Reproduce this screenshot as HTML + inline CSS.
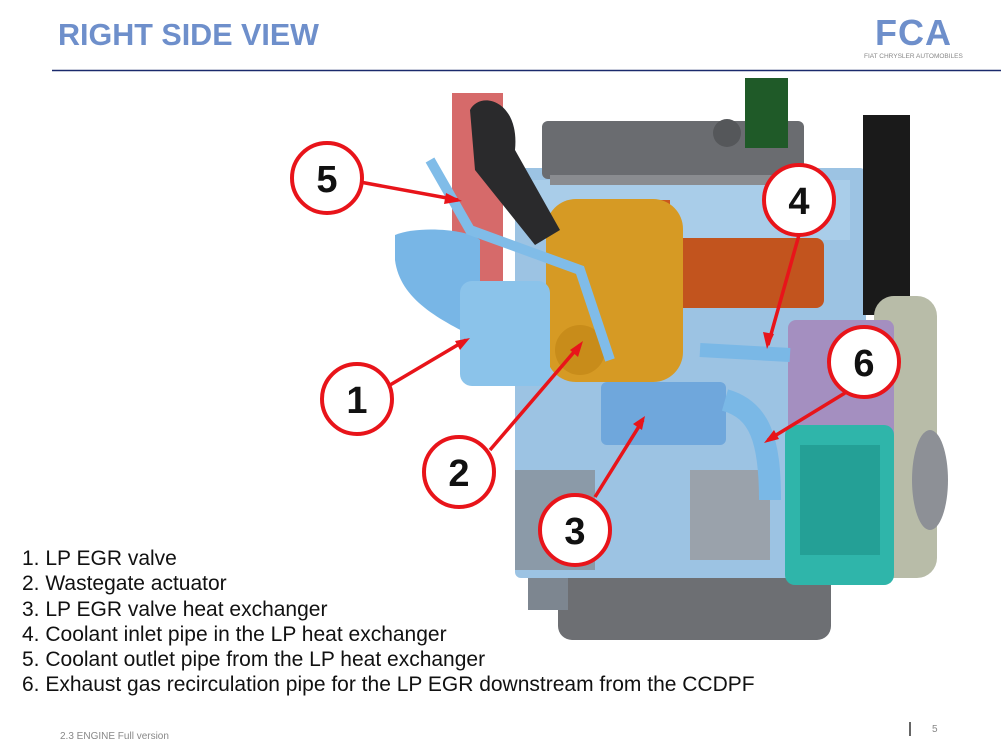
<!DOCTYPE html>
<html><head><meta charset="utf-8"><style>
body{margin:0;width:1001px;height:739px;background:#fff;overflow:hidden;position:relative;font-family:"Liberation Sans",sans-serif}
.t{position:absolute;left:58px;top:18px;font-size:30.5px;font-weight:bold;color:#6e8fcb}
.list{position:absolute;left:22px;top:546px;font-size:21px;line-height:25.3px;color:#111}
</style></head><body>
<div class="t">RIGHT SIDE VIEW</div>
<svg width="1001" height="739" style="position:absolute;left:0;top:0">
<line x1="52" y1="70.5" x2="1001" y2="70.5" stroke="#1a2a6c" stroke-width="1.5"/>
<text x="875" y="45" font-family="Liberation Sans" font-weight="bold" font-size="36" fill="#6e8fcb" letter-spacing="1">FCA</text>
<text x="864" y="58" font-family="Liberation Sans" font-size="6.5" fill="#888">FIAT CHRYSLER AUTOMOBILES</text>
<text x="60" y="739" font-family="Liberation Sans" font-size="10" fill="#888">2.3 ENGINE Full version</text>
<line x1="910" y1="722" x2="910" y2="736" stroke="#666" stroke-width="2"/>
<text x="932" y="732" font-family="Liberation Sans" font-size="10" fill="#888">5</text>
<!-- engine -->
<rect x="558" y="540" width="273" height="100" rx="14" fill="#6d6f73"/>
<rect x="528" y="500" width="40" height="110" fill="#7d8690"/>
<rect x="515" y="168" width="351" height="410" rx="6" fill="#9cc3e3"/>
<rect x="530" y="180" width="320" height="60" fill="#a9cde9"/>
<rect x="515" y="470" width="80" height="100" fill="#8b9aa8"/>
<rect x="690" y="470" width="80" height="90" fill="#9aa2ab"/>
<rect x="542" y="121" width="262" height="58" rx="6" fill="#6a6c70"/>
<rect x="550" y="175" width="250" height="10" fill="#8a8c90"/>
<circle cx="727" cy="133" r="14" fill="#55575a"/>
<rect x="745" y="78" width="43" height="70" fill="#1f5a28"/>
<rect x="863" y="115" width="47" height="200" fill="#1a1a1a"/>
<rect x="874" y="296" width="63" height="282" rx="20" fill="#b8bca8"/>
<ellipse cx="930" cy="480" rx="18" ry="50" fill="#8d9096"/>
<rect x="788" y="320" width="106" height="125" rx="8" fill="#a48fc0"/>
<rect x="785" y="425" width="109" height="160" rx="10" fill="#2fb5aa"/>
<rect x="800" y="445" width="80" height="110" fill="#24a096"/>
<rect x="605" y="238" width="219" height="70" rx="8" fill="#c2541e"/>
<rect x="625" y="200" width="45" height="60" fill="#c9581f"/>
<rect x="546" y="199" width="137" height="183" rx="30" fill="#d69a24"/>
<circle cx="580" cy="350" r="25" fill="#c88c1a"/>
<path d="M452 93h51v188h-51z" fill="#d66a6a"/>
<path d="M470 110 C480 90,520 100,515 150 L560 230 L535 245 L475 170 Z" fill="#2a2a2c"/>
<path d="M395 235 C420 225,470 230,480 240 L480 340 C440 320,400 300,395 260 Z" fill="#78b6e6"/>
<rect x="460" y="281" width="90" height="105" rx="12" fill="#8bc3ea"/>
<rect x="601" y="382" width="125" height="63" rx="6" fill="#6fa7dc"/>
<path d="M725 400 C760 410,770 440,770 500" stroke="#7ab8e6" stroke-width="22" fill="none"/>
<path d="M700 350 L790 355" stroke="#7ab8e6" stroke-width="14" fill="none"/>
<path d="M430 160 L470 230 L580 270 L610 360" stroke="#80bce8" stroke-width="10" fill="none"/>
<!-- callouts -->
<g stroke="#e8141a" stroke-width="3.5" fill="none">
<line x1="360" y1="182" x2="458" y2="200"/>
<line x1="799" y1="235" x2="768" y2="345"/>
<line x1="845" y1="393" x2="768" y2="440"/>
<line x1="390" y1="385" x2="466" y2="340"/>
<line x1="490" y1="450" x2="580" y2="345"/>
<line x1="595" y1="497" x2="643" y2="420"/>
</g>
<g fill="#e8141a">
<polygon points="462,201 446,193 444,204"/>
<polygon points="767,349 763,332 774,334"/>
<polygon points="764,443 774,430 779,439"/>
<polygon points="470,338 455,341 460,350"/>
<polygon points="583,341 570,350 578,357"/>
<polygon points="645,416 633,424 642,430"/>
</g>
<g stroke="#e8141a" stroke-width="4" fill="#fff">
<circle cx="327" cy="178" r="35"/><circle cx="799" cy="200" r="35"/><circle cx="864" cy="362" r="35"/>
<circle cx="357" cy="399" r="35"/><circle cx="459" cy="472" r="35"/><circle cx="575" cy="530" r="35"/>
</g>
<g font-family="Liberation Sans" font-weight="bold" font-size="38" text-anchor="middle" fill="#111">
<text x="327" y="192">5</text><text x="799" y="214">4</text><text x="864" y="376">6</text>
<text x="357" y="413">1</text><text x="459" y="486">2</text><text x="575" y="544">3</text>
</g>
</svg>
<div class="list">1. LP EGR valve<br>2. Wastegate actuator<br>3. LP EGR valve heat exchanger<br>4. Coolant inlet pipe in the LP heat exchanger<br>5. Coolant outlet pipe from the LP heat exchanger<br>6. Exhaust gas recirculation pipe for the LP EGR downstream from the CCDPF</div>
</body></html>
